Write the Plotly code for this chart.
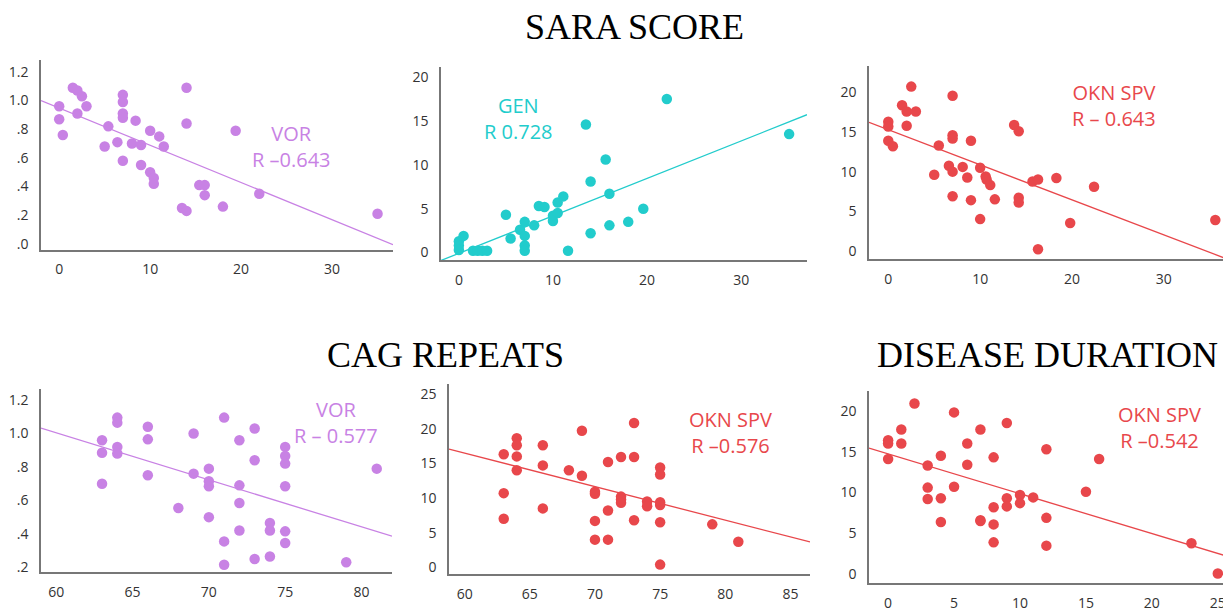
import plotly.graph_objects as go

# the page body has an 8px default margin; the figure is sized to fill the window from there
OFF = 8
W, H = 1231 - OFF, 612 - OFF

# ---------------- data ----------------
# SARA score vs VOR
sara_vor_x = [0, 0, 0.4, 1.5, 2.0, 2.5, 2.0, 3.0, 5.4, 5.0, 6.4, 7, 7, 7, 7, 7, 8.0, 8.4, 9, 9,
              10, 10, 10.4, 10.4, 11, 11.5, 14, 14, 13.5, 14, 15.4, 16, 16, 18, 19.4, 22, 35]
sara_vor_y = [0.96, 0.87, 0.76, 1.09, 1.07, 1.03, 0.91, 0.96, 0.82, 0.68, 0.71, 1.04, 0.99, 0.91, 0.88, 0.58,
              0.70, 0.86, 0.69, 0.55, 0.79, 0.50, 0.46, 0.42, 0.75, 0.68, 1.09, 0.84, 0.25, 0.23, 0.41,
              0.41, 0.34, 0.26, 0.79, 0.35, 0.21]

# SARA score vs GEN
sara_gen_x = [0, 0, 0, 0.5, 1.5, 2, 2.5, 3, 5.0, 5.5, 6.5, 7, 7, 7, 7, 8, 8.5, 9.1, 10, 10,
              10.5, 10.5, 11.1, 11.6, 13.5, 14, 14, 15.6, 16, 16, 18, 19.6, 22.1, 35.1]
sara_gen_y = [1.3, 0.8, 0.3, 1.9, 0.2, 0.2, 0.2, 0.2, 4.3, 1.6, 2.6, 3.5, 1.9, 0.8, 0.2, 3.1, 5.3, 5.2, 3.6, 4.2,
              5.7, 4.5, 6.4, 0.2, 14.6, 8.1, 2.2, 10.6, 6.7, 3.1, 3.5, 5.0, 17.5, 13.5]

# SARA score vs OKN SPV
sara_okn_x = [0, 0, 0, 0.5, 1.5, 2, 2, 2.5, 3, 5, 5.5, 6.6, 7, 7, 7, 7, 7, 8.1, 8.6, 9, 9,
              10, 10, 10.6, 10.7, 11.1, 11.6, 13.7, 14.2, 14.2, 14.2, 15.7, 16.3, 16.3, 18.3, 19.8, 22.4, 35.6]
sara_okn_y = [16.3, 15.7, 13.9, 13.2, 18.4, 17.6, 15.8, 20.75, 17.6, 9.6, 13.3, 10.75, 19.6, 14.6, 14.2, 10.0, 6.9,
              10.6, 9.25, 13.9, 6.4, 10.5, 4.0, 9.4, 9.0, 8.3, 6.5, 15.9, 15.1, 6.7, 6.1, 8.75, 9.0, 0.2, 9.2,
              3.5, 8.1, 3.9]

# CAG repeats vs VOR
cag_vor_x = [63, 63, 63, 64, 64, 64, 64, 66, 66, 66, 68, 69, 69, 70, 70, 70, 70, 71, 71, 71,
             72, 72, 72, 72, 73, 73, 73, 74, 74, 74, 75, 75, 75, 75, 75, 75, 79, 81]
cag_vor_y = [0.96, 0.885, 0.70, 1.095, 1.065, 0.92, 0.88, 1.04, 0.965, 0.75, 0.555, 1.0, 0.76, 0.79, 0.715,
             0.685, 0.50, 1.095, 0.355, 0.215, 0.96, 0.69, 0.585, 0.42, 1.03, 0.84, 0.25, 0.465, 0.42, 0.265,
             0.92, 0.865, 0.82, 0.685, 0.415, 0.345, 0.23, 0.79]

# CAG repeats vs OKN SPV
cag_okn_x = [63, 63, 63, 64, 64, 64, 64, 66, 66, 66, 68, 69, 69, 70, 70, 70, 70, 71, 71, 71,
             72, 72, 72, 72, 73, 73, 73, 74, 74, 75, 75, 75, 75, 75, 75, 79, 81]
cag_okn_y = [16.3, 10.7, 7.0, 18.6, 17.6, 16.0, 14.0, 17.6, 14.7, 8.5, 14.0, 19.7, 13.2, 10.9, 10.6, 6.7, 4.0,
             15.2, 8.2, 4.0, 15.9, 10.2, 9.8, 9.3, 20.8, 15.9, 6.8, 9.5, 8.8, 14.4, 13.4, 9.4, 9.0, 6.5, 0.4,
             6.2, 3.7]

# Disease duration vs OKN SPV
dur_okn_x = [0, 0, 0, 1, 1, 2, 3, 3, 3, 4, 4, 4, 5, 5, 6, 6, 7, 7, 7, 8, 8, 8, 8, 9, 9, 9,
             10, 10, 11, 12, 12, 12, 15, 16, 23, 25]
dur_okn_y = [16.4, 16.0, 14.1, 17.7, 16.0, 20.9, 13.3, 10.6, 9.2, 14.5, 9.3, 6.4, 19.8, 10.7, 16.0, 13.4,
             17.7, 6.6, 6.5, 14.3, 8.2, 6.1, 3.9, 18.5, 9.3, 8.3, 9.7, 8.7, 9.4, 15.3, 6.9, 3.5, 10.1, 14.1,
             3.8, 0.1]

# fit lines: (value at x0, x0, slope)
fit_sara_vor = (0.948, 0, -0.026)
fit_sara_gen = (-0.09, 0, 0.427)
fit_sara_okn = (15.3, 0, -0.443)
fit_cag_vor = (1.004, 60, -0.0281)
fit_cag_okn = (16.47, 60, -0.483)
fit_dur_okn = (14.72, 0, -0.487)

labels = ["VOR<br>R \u20130.643", "GEN<br>R 0.728", "OKN SPV<br>R \u2013 0.643",
          "VOR<br>R \u2013 0.577", "OKN SPV<br>R \u20130.576", "OKN SPV<br>R \u20130.542"]
titles = ["SARA SCORE", "CAG REPEATS", "DISEASE DURATION"]

vor_ticks = [0, 0.2, 0.4, 0.6, 0.8, 1.0, 1.2]
vor_ticktext = [".0", ".2", ".4", ".6", ".8", "1.0", "1.2"]

PURPLE = "#c882e4"
TEAL = "#22cccc"
RED = "#e8474b"


def fx(px):
    return (px - OFF) / W


def fy(py):
    return 1 - (py - OFF) / H


# ---------------- layout geometry (window pixels) ----------------
panels = [
    (sara_vor_x, sara_vor_y, fit_sara_vor, PURPLE, [-2.0, 36.7], [-0.04, 1.28], (41, 393, 61, 252), 10, True),
    (sara_gen_x, sara_gen_y, fit_sara_gen, TEAL, [-1.9, 37.0], [-0.9, 21.1], (441, 807, 68, 263), 10, False),
    (sara_okn_x, sara_okn_y, fit_sara_okn, RED, [-2.1, 37.2], [-1.1, 23.3], (869, 1230, 67, 262), 10, False),
    (cag_vor_x, cag_vor_y, fit_cag_vor, PURPLE, [59.0, 82.0], [0.17, 1.265], (41, 392, 393, 578), 5, True),
    (cag_okn_x, cag_okn_y, fit_cag_okn, RED, [58.8, 86.5], [-1.0, 26.4], (449, 810, 388, 580), 5, False),
    (dur_okn_x, dur_okn_y, fit_dur_okn, RED, [-1.45, 26.0], [-1.1, 22.4], (869, 1231, 395, 589), 5, False),
]

fig = go.Figure()
layout = dict(
    width=W, height=H, margin=dict(l=0, r=0, t=0, b=0), autosize=False,
    paper_bgcolor="white", plot_bgcolor="white", showlegend=False,
    font=dict(family="Open Sans", color="#222"),
)

for i, (xs, ys, fit, col, xr, yr, box, dt, vor) in enumerate(panels):
    n = "" if i == 0 else str(i + 1)
    xa, ya = "x" + n, "y" + n
    px0, px1, py0, py1 = box
    b0, x0, slope = fit
    lx = [xr[0], xr[1]]
    ly = [b0 + slope * (v - x0) for v in lx]
    fig.add_trace(go.Scatter(x=lx, y=ly, mode="lines", line=dict(color=col, width=1.3),
                             xaxis=xa, yaxis=ya, hoverinfo="skip"))
    fig.add_trace(go.Scatter(x=xs, y=ys, mode="markers", marker=dict(color=col, size=10.5, line=dict(width=0)),
                             xaxis=xa, yaxis=ya, cliponaxis=False))
    axcommon = dict(showgrid=False, zeroline=False, showline=True, linecolor="#777", linewidth=1.5,
                    ticks="outside", tickcolor="rgba(0,0,0,0)",
                    tickfont=dict(family="Open Sans", size=14, color="#333"), fixedrange=True)
    layout["xaxis" + n] = dict(axcommon, domain=[max(0, fx(px0)), min(1, fx(px1))], range=xr,
                               dtick=dt, tick0=0, ticklen=6, anchor=ya)
    ydict = dict(axcommon, domain=[max(0, fy(py1)), min(1, fy(py0))], range=yr, ticklen=8, anchor=xa)
    if vor:
        ydict.update(tickmode="array", tickvals=vor_ticks, ticktext=vor_ticktext)
    else:
        ydict.update(dtick=5, tick0=0)
    layout["yaxis" + n] = ydict

fig.update_layout(**layout)

# annotation text block centres (window pixels)
ann_pos = [(291, 148), (518, 120), (1114, 106), (336, 427), (730, 437), (1159, 432)]
ann_col = [PURPLE, TEAL, RED, PURPLE, RED, RED]
for txt, (px, py), c in zip(labels, ann_pos, ann_col):
    fig.add_annotation(text=txt, x=fx(px), y=fy(py), xref="paper", yref="paper",
                       showarrow=False, xanchor="center", yanchor="middle", align="center",
                       font=dict(family="Open Sans", size=20, color=c))

title_pos = [(635, 27), (445, 358), (1047, 358)]
for txt, (px, py) in zip(titles, title_pos):
    fig.add_annotation(text=txt, x=fx(px), y=fy(py), xref="paper", yref="paper",
                       showarrow=False, xanchor="center", yanchor="middle",
                       font=dict(family="Liberation Serif", size=36, color="black"))

fig.write_html("out.html")
